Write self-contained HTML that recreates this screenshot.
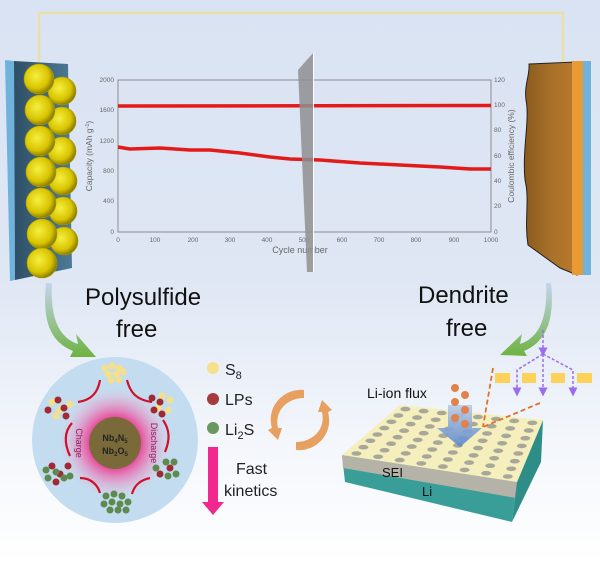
<!DOCTYPE html>
<html><head><style>
html,body{margin:0;padding:0;}
body{width:600px;height:563px;overflow:hidden;font-family:"Liberation Sans",sans-serif;}
</style></head><body>
<svg width="600" height="563" viewBox="0 0 600 563" xmlns="http://www.w3.org/2000/svg" font-family="Liberation Sans, sans-serif">
<defs>
<linearGradient id="bg" x1="0" y1="0" x2="0" y2="1">
<stop offset="0" stop-color="#dae3f3"/><stop offset="0.5" stop-color="#dfe7f4"/><stop offset="0.78" stop-color="#f3f6fb"/><stop offset="1" stop-color="#ffffff"/></linearGradient>
<radialGradient id="ball" cx="0.4" cy="0.4" r="0.6"><stop offset="0" stop-color="#f6ef40"/><stop offset="0.7" stop-color="#d8c400"/><stop offset="1" stop-color="#8f8000"/></radialGradient>
<linearGradient id="slab" x1="0" y1="0" x2="1" y2="0"><stop offset="0" stop-color="#2e4f66"/><stop offset="1" stop-color="#4d7a96"/></linearGradient>
<linearGradient id="cu" x1="0" y1="0" x2="1" y2="0"><stop offset="0" stop-color="#8a5a1c"/><stop offset="0.5" stop-color="#a8702a"/><stop offset="1" stop-color="#b87a2a"/></linearGradient>
<linearGradient id="arrL" x1="0" y1="0" x2="0" y2="1"><stop offset="0" stop-color="#c6d4ee"/><stop offset="1" stop-color="#6db340"/></linearGradient>
<radialGradient id="glow"><stop offset="0.4" stop-color="#ea2a8a"/><stop offset="1" stop-color="#f7b5d4" stop-opacity="0"/></radialGradient>
<linearGradient id="barr" x1="0" y1="0" x2="0" y2="1"><stop offset="0" stop-color="#b9cbe8"/><stop offset="1" stop-color="#5a86cc"/></linearGradient>
<marker id="pa" markerWidth="6" markerHeight="6" refX="3" refY="3" orient="auto"><path d="M0,0L6,3L0,6z" fill="#9a6cf0"/></marker>
</defs>
<rect width="600" height="563" fill="url(#bg)"/>
<!-- wire -->
<path d="M39,62V13H563V62" fill="none" stroke="#e8e0a8" stroke-width="2.5"/>
<!-- left electrode -->
<polygon points="5,60 14,61 15,280 10,281" fill="#6fb2dc"/>
<polygon points="14,61 68,64 72,268 15,280" fill="url(#slab)"/>
<g fill="url(#ball)" stroke="#a89a00" stroke-width="0.6">
<circle cx="62" cy="91" r="14"/><circle cx="62" cy="121" r="14"/><circle cx="62" cy="151" r="14"/><circle cx="63" cy="181" r="14"/><circle cx="63" cy="211" r="14"/><circle cx="64" cy="241" r="14"/>
<circle cx="39" cy="79" r="15"/><circle cx="40" cy="110" r="15"/><circle cx="40" cy="141" r="15"/><circle cx="41" cy="172" r="15"/><circle cx="41" cy="203" r="15"/><circle cx="42" cy="234" r="15"/><circle cx="42" cy="263" r="15"/>
</g>
<!-- right electrode -->
<path d="M529,64 L576,62 L577,275 L560,268 L528,245 C524,220 530,200 525,180 C522,150 530,120 526,100 C524,85 530,75 529,64Z" fill="url(#cu)" stroke="#222" stroke-width="1"/>
<rect x="572" y="61" width="11" height="214" fill="#e79a35"/>
<rect x="583" y="61" width="8" height="214" fill="#6fb2dc"/>
<!-- chart -->
<g font-size="6.5" fill="#666">
<rect x="118" y="80" width="373" height="152" fill="none" stroke="#777" stroke-width="0.8"/>
<g text-anchor="end">
<text x="114" y="82">2000</text><text x="114" y="112">1600</text><text x="114" y="143">1200</text><text x="114" y="173">800</text><text x="114" y="203">400</text><text x="114" y="234">0</text></g>
<g text-anchor="start">
<text x="494" y="82">120</text><text x="494" y="107">100</text><text x="494" y="132">80</text><text x="494" y="158">60</text><text x="494" y="183">40</text><text x="494" y="208">20</text><text x="494" y="234">0</text></g>
<g text-anchor="middle">
<text x="118" y="242">0</text><text x="155" y="242">100</text><text x="193" y="242">200</text><text x="230" y="242">300</text><text x="267" y="242">400</text><text x="304" y="242">500</text><text x="342" y="242">600</text><text x="379" y="242">700</text><text x="416" y="242">800</text><text x="454" y="242">900</text><text x="491" y="242">1000</text></g>
<text x="300" y="253" font-size="9" text-anchor="middle">Cycle number</text>
<text transform="translate(92,156) rotate(-90)" font-size="8.5" text-anchor="middle">Capacity (mAh g<tspan dy="-3" font-size="5.5">-1</tspan><tspan dy="3">)</tspan></text>
<text transform="translate(514,156) rotate(-90)" font-size="8.5" text-anchor="middle">Coulombic efficiency (%)</text>
</g>
<line x1="118" y1="106" x2="491" y2="105.5" stroke="#e21a1a" stroke-width="3.5"/>
<path d="M118,147 L130,149 L160,148 L190,150 L210,150 L240,153 L270,157 L290,159 L320,160 L360,163 L400,165 L440,167 L470,169 L491,169" fill="none" stroke="#e21a1a" stroke-width="3.5"/>
<polygon points="298,70 313,53 313,272 307,272" fill="#8f8f8f" opacity="0.85"/>
<line x1="313.5" y1="53" x2="313.5" y2="272" stroke="#fff" stroke-width="1"/>
<!-- titles -->
<g font-size="24" fill="#111">
<text x="85" y="305">Polysulfide</text><text x="116" y="337">free</text>
<text x="418" y="303">Dendrite</text><text x="446" y="336">free</text></g>
<!-- curved arrows -->
<path d="M52,283 C50,320 60,338 78,344 L76,334 L96,357 L70,357 L73,351 C50,342 42,320 46,283Z" fill="url(#arrL)"/>
<path d="M546,283 C548,320 538,338 520,344 L522,334 L500,355 L527,356 L524,351 C546,342 555,320 551,283Z" fill="url(#arrL)"/>
<!-- circle -->
<circle cx="115" cy="440" r="83" fill="#c4dcef"/>
<circle cx="115" cy="443" r="55" fill="url(#glow)"/>
<circle cx="115" cy="443" r="26" fill="#7a6a3a"/>
<g font-size="9" font-weight="bold" fill="#222" text-anchor="middle"><text x="115" y="441">Nb<tspan font-size="6" dy="2">4</tspan><tspan dy="-2">N</tspan><tspan font-size="6" dy="2">5</tspan></text><text x="115" y="454">Nb<tspan font-size="6" dy="2">2</tspan><tspan dy="-2">O</tspan><tspan font-size="6" dy="2">5</tspan></text></g>
<text transform="translate(76,443) rotate(90)" font-size="9" fill="#8a2060" text-anchor="middle">Charge</text>
<text transform="translate(151,443) rotate(90)" font-size="9" fill="#8a2060" text-anchor="middle">Discharge</text>
<g fill="none" stroke="#d0102a" stroke-width="2.2">
<path d="M78,402 C92,400 98,392 100,380"/><path d="M127,380 C130,392 136,400 152,402"/>
<path d="M163,420 C170,430 170,440 165,452"/><path d="M72,423 C64,432 64,443 70,456"/>
<path d="M80,478 C92,478 98,486 100,493"/><path d="M150,478 C140,480 134,486 132,494"/></g>
<g fill="#f4e08a"><circle cx="105" cy="368" r="3.5"/><circle cx="112" cy="366" r="3.5"/><circle cx="119" cy="368" r="3.5"/><circle cx="108" cy="374" r="3.5"/><circle cx="116" cy="374" r="3.5"/><circle cx="123" cy="372" r="3.5"/><circle cx="111" cy="380" r="3.5"/><circle cx="119" cy="380" r="3.5"/></g>
<g fill="#f4e08a"><circle cx="52" cy="402" r="3.5"/><circle cx="60" cy="410" r="3.5"/><circle cx="70" cy="404" r="3.5"/><circle cx="56" cy="416" r="3.5"/><circle cx="162" cy="396" r="3.5"/><circle cx="170" cy="400" r="3.5"/><circle cx="168" cy="410" r="3.5"/><circle cx="158" cy="408" r="3.5"/></g>
<g fill="#a02a34"><circle cx="58" cy="400" r="3.5"/><circle cx="64" cy="408" r="3.5"/><circle cx="48" cy="410" r="3.5"/><circle cx="66" cy="416" r="3.5"/><circle cx="152" cy="398" r="3.5"/><circle cx="160" cy="402" r="3.5"/><circle cx="154" cy="410" r="3.5"/><circle cx="162" cy="414" r="3.5"/>
<circle cx="52" cy="466" r="3.5"/><circle cx="60" cy="474" r="3.5"/><circle cx="68" cy="466" r="3.5"/><circle cx="56" cy="482" r="3.5"/><circle cx="170" cy="468" r="3.5"/><circle cx="160" cy="474" r="3.5"/></g>
<g fill="#5e8a50"><circle cx="46" cy="470" r="3.5"/><circle cx="56" cy="472" r="3.5"/><circle cx="64" cy="478" r="3.5"/><circle cx="48" cy="478" r="3.5"/><circle cx="70" cy="476" r="3.5"/>
<circle cx="166" cy="462" r="3.5"/><circle cx="174" cy="462" r="3.5"/><circle cx="168" cy="476" r="3.5"/><circle cx="176" cy="474" r="3.5"/><circle cx="156" cy="468" r="3.5"/>
<circle cx="106" cy="496" r="3.5"/><circle cx="114" cy="494" r="3.5"/><circle cx="122" cy="496" r="3.5"/><circle cx="104" cy="504" r="3.5"/><circle cx="112" cy="502" r="3.5"/><circle cx="120" cy="504" r="3.5"/><circle cx="128" cy="502" r="3.5"/><circle cx="110" cy="510" r="3.5"/><circle cx="118" cy="510" r="3.5"/><circle cx="126" cy="510" r="3.5"/></g>
<!-- legend -->
<circle cx="213" cy="368" r="6" fill="#f8e08a"/><circle cx="213" cy="399" r="6" fill="#a63a3e"/><circle cx="213" cy="428" r="6" fill="#6a9660"/>
<g font-size="16" fill="#222"><text x="225" y="375">S<tspan font-size="11" dy="4">8</tspan></text><text x="225" y="405">LPs</text><text x="225" y="435">Li<tspan font-size="11" dy="4">2</tspan><tspan dy="-4">S</tspan></text>
<text x="236" y="474">Fast</text><text x="224" y="496">kinetics</text></g>
<polygon points="208,447 218,447 218,502 224,502 213,515 202,502 208,502" fill="#f02890"/>
<!-- orange cycle arrows -->
<path d="M304,390 C284,388 266,406 272,428 L268,430 L278,440 L282,428 L278,428 C274,410 288,398 304,398Z" fill="#e8a060"/>
<path d="M296,450 C316,452 334,434 328,412 L332,410 L322,400 L318,412 L322,412 C326,430 312,442 296,442Z" fill="#e8a060"/>
<!-- platform -->
<polygon points="342,455 517,482 512,522 345,482" fill="#3a9e98"/>
<polygon points="342,455 517,482 516,498 343,468" fill="#b5b2a8"/>
<polygon points="517,482 543,420 541,462 512,522" fill="#2f8d88"/>
<polygon points="342,455 400,405 543,420 517,482" fill="#f4efbc"/>
<g fill="#a9a79a" id="holes"></g>
<g font-size="14" fill="#111"><text x="367" y="398">Li-ion flux</text><text x="382" y="477" font-size="13">SEI</text><text x="422" y="496" font-size="13">Li</text></g>
<polygon points="448,405 472,405 472,428 482,428 460,447 437,428 448,428" fill="url(#barr)" opacity="0.9"/>
<g fill="#e0824a"><circle cx="455" cy="388" r="4"/><circle cx="465" cy="395" r="4"/><circle cx="455" cy="402" r="4"/><circle cx="465" cy="410" r="4"/><circle cx="455" cy="418" r="4"/><circle cx="465" cy="424" r="4"/></g>
<g stroke="#e07030" stroke-width="1.8" stroke-dasharray="5,3" fill="none"><line x1="493" y1="368" x2="483" y2="427"/><line x1="540" y1="403" x2="483" y2="427"/></g>
<g fill="#fcd25a"><rect x="495" y="373" width="15" height="10"/><rect x="522" y="373" width="14" height="10"/><rect x="551" y="373" width="14" height="10"/><rect x="577" y="373" width="15" height="10"/></g>
<g stroke="#9a6cf0" stroke-width="1.5" stroke-dasharray="3,2" fill="none" marker-end="url(#pa)">
<line x1="543" y1="330" x2="543" y2="352"/><polyline points="543,354 517,370 517,392"/><line x1="543" y1="354" x2="543" y2="392"/><polyline points="543,354 573,370 573,392"/></g>
</svg>
<script>
(function(){var g=document.getElementById('holes');var A=[342,455],B=[400,405],C=[543,420],D=[517,482];var s='';
for(var i=0;i<8;i++)for(var j=0;j<8;j++){var u=(i+0.5)/8,v=(j+0.5)/8;
var x=(1-u)*(1-v)*B[0]+u*(1-v)*C[0]+u*v*D[0]+(1-u)*v*A[0];var y=(1-u)*(1-v)*B[1]+u*(1-v)*C[1]+u*v*D[1]+(1-u)*v*A[1];
s+='<ellipse cx="'+x.toFixed(1)+'" cy="'+y.toFixed(1)+'" rx="5" ry="2.3"/>';}
g.innerHTML=s;})();
</script>
</body></html>
